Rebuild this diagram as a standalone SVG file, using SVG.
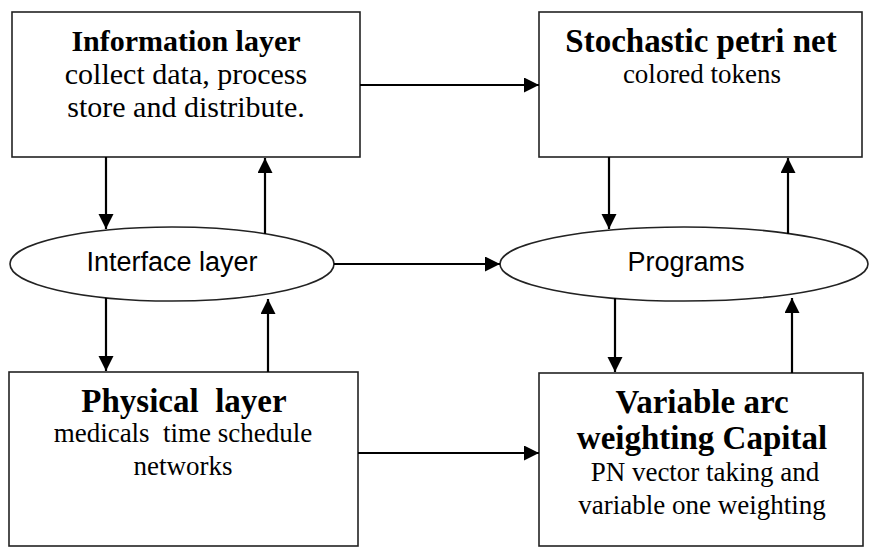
<svg xmlns="http://www.w3.org/2000/svg" width="869" height="556" viewBox="0 0 869 556">
<style>
.box{fill:#fff;stroke:#222;stroke-width:1.6}
.ell{fill:#fff;stroke:#222;stroke-width:1.6}
.tb{font-family:"Liberation Serif","Times New Roman",serif;font-weight:bold;fill:#000;text-anchor:middle}
.tr{font-family:"Liberation Serif","Times New Roman",serif;fill:#000;text-anchor:middle}
.ts{font-family:"Liberation Sans",Arial,sans-serif;font-size:27px;fill:#000;text-anchor:middle}
.c line{stroke:#000;stroke-width:2.2;marker-end:url(#ah)}
</style>
<defs>
<marker id="ah" markerUnits="userSpaceOnUse" markerWidth="16" markerHeight="16" refX="15" refY="7.5" orient="auto">
<path d="M0,0 L15,7.5 L0,15 z" fill="#000"/>
</marker>
</defs>
<g id="info">
<rect class="box" x="12" y="12" width="348" height="145"/>
<text class="tb" x="186" y="51" font-size="30">Information layer</text>
<text class="tr" x="186" y="84" font-size="30">collect data, process</text>
<text class="tr" x="186" y="117" font-size="30">store and distribute.</text>
</g>
<g id="spn">
<rect class="box" x="539" y="12" width="323" height="145"/>
<text class="tb" x="701" y="52" font-size="33">Stochastic petri net</text>
<text class="tr" x="702" y="83" font-size="27">colored tokens</text>
</g>
<g id="interface">
<ellipse class="ell" cx="172" cy="264" rx="162" ry="37"/>
<text class="ts" x="172" y="271">Interface layer</text>
</g>
<g id="programs">
<ellipse class="ell" cx="684" cy="264" rx="184" ry="37"/>
<text class="ts" x="686" y="271">Programs</text>
</g>
<g id="physical">
<rect class="box" x="9" y="372" width="349" height="174"/>
<text class="tb" x="184" y="412" font-size="33" xml:space="preserve" style="white-space:pre">Physical  layer</text>
<text class="tr" x="183" y="442" font-size="27" xml:space="preserve" style="white-space:pre">medicals  time schedule</text>
<text class="tr" x="183" y="475" font-size="27">networks</text>
</g>
<g id="variable">
<rect class="box" x="539" y="373" width="324" height="173"/>
<text class="tb" x="702" y="413" font-size="33">Variable arc</text>
<text class="tb" x="702" y="449" font-size="33">weighting Capital</text>
<text class="tr" x="705" y="481" font-size="27">PN vector taking and</text>
<text class="tr" x="702" y="514" font-size="27">variable one weighting</text>
</g>
<g id="connectors" class="c">
<line x1="360" y1="85" x2="539" y2="85"/>
<line x1="106" y1="157" x2="106" y2="229"/>
<line x1="265" y1="234" x2="265" y2="158"/>
<line x1="334" y1="264" x2="500" y2="264"/>
<line x1="106" y1="298" x2="106" y2="371"/>
<line x1="268" y1="372" x2="268" y2="299"/>
<line x1="609" y1="157" x2="609" y2="229"/>
<line x1="788" y1="234" x2="788" y2="158"/>
<line x1="615" y1="298" x2="615" y2="372"/>
<line x1="792" y1="373" x2="792" y2="298"/>
<line x1="358" y1="453" x2="539" y2="453"/>
</g>
</svg>
